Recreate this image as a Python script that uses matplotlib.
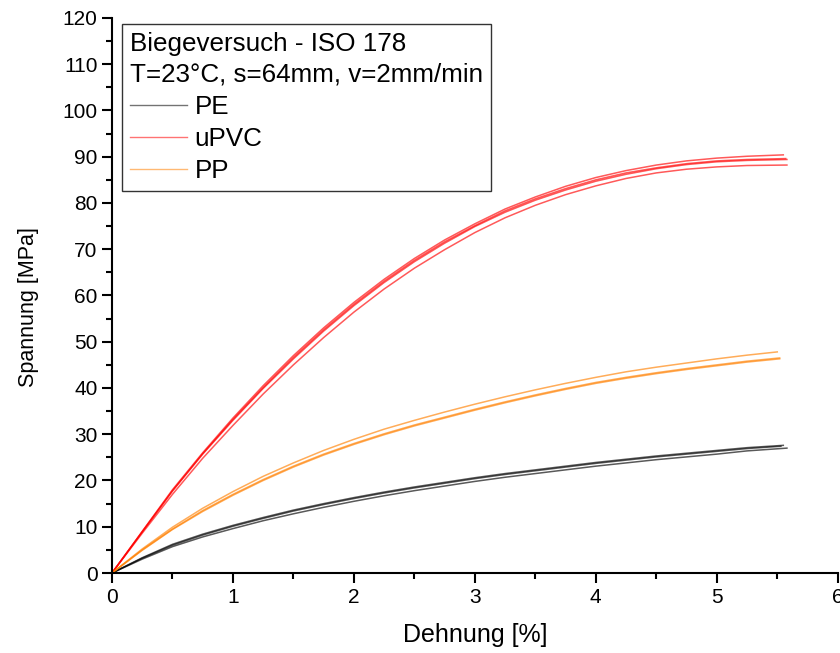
import matplotlib
matplotlib.use('Agg')
import matplotlib.pyplot as plt
from matplotlib.lines import Line2D
from matplotlib.ticker import MultipleLocator

plt.rcParams['font.family'] = ['Liberation Sans', 'DejaVu Sans']

# Dehnung [%] grid (last value = end of each specimen)
dehnung = [0, 0.25, 0.5, 0.75, 1, 1.25, 1.5, 1.75, 2, 2.25, 2.5, 2.75,
           3, 3.25, 3.5, 3.75, 4, 4.25, 4.5, 4.75, 5, 5.25]

# uPVC specimens, Spannung [MPa]
upvc_1 = [0, 9, 18, 26, 33.5, 40.5, 47, 53, 58.5, 63.5, 68, 72,
          75.5, 78.7, 81.3, 83.6, 85.5, 87, 88.2, 89.1, 89.7, 90.1, 90.4]
upvc_2 = [0, 8.9, 17.8, 25.8, 33.2, 40.1, 46.6, 52.6, 58.1, 63.1, 67.6, 71.6,
          75.1, 78.3, 80.9, 83.1, 85.0, 86.5, 87.6, 88.5, 89.1, 89.4, 89.6]
upvc_3 = [0, 8.9, 17.7, 25.7, 33.0, 39.9, 46.3, 52.3, 57.8, 62.8, 67.3, 71.3,
          74.9, 78.0, 80.6, 82.8, 84.7, 86.2, 87.4, 88.3, 88.9, 89.2, 89.4]
upvc_4 = [0, 8.6, 17.0, 24.8, 31.9, 38.7, 45.0, 50.9, 56.4, 61.4, 65.9, 69.9,
          73.6, 76.8, 79.5, 81.8, 83.7, 85.3, 86.5, 87.3, 87.8, 88.1, 88.2]
upvc_end = [5.55, 5.57, 5.58, 5.58]

# PP specimens
pp_1 = [0, 5, 9.5, 13.5, 17, 20.2, 23.1, 25.7, 28.0, 30.1, 32.0, 33.7,
        35.4, 37.0, 38.5, 39.9, 41.2, 42.3, 43.3, 44.2, 45.0, 45.8, 46.5]
pp_2 = [0, 4.9, 9.4, 13.3, 16.8, 20.0, 22.9, 25.5, 27.8, 29.9, 31.8, 33.5,
        35.2, 36.8, 38.3, 39.7, 41.0, 42.1, 43.1, 44.0, 44.8, 45.6, 46.3]
pp_3 = [0, 5.2, 9.9, 14.0, 17.6, 20.9, 23.8, 26.5, 28.9, 31.1, 33.0, 34.8,
        36.5, 38.1, 39.6, 41.0, 42.3, 43.5, 44.5, 45.4, 46.3, 47.1, 47.8]
pp_end = [5.52, 5.52, 5.5]

# PE specimens
pe_1 = [0, 3.3, 6.2, 8.4, 10.3, 12.0, 13.6, 15.0, 16.3, 17.5, 18.6, 19.6,
        20.6, 21.5, 22.3, 23.1, 23.9, 24.6, 25.3, 25.9, 26.5, 27.1, 27.6]
pe_2 = [0, 3.2, 6.0, 8.2, 10.1, 11.8, 13.4, 14.8, 16.1, 17.3, 18.4, 19.4,
        20.4, 21.3, 22.1, 22.9, 23.7, 24.4, 25.1, 25.7, 26.3, 26.9, 27.4]
pe_3 = [0, 3.0, 5.7, 7.8, 9.6, 11.3, 12.8, 14.2, 15.5, 16.7, 17.8, 18.8,
        19.8, 20.7, 21.5, 22.3, 23.1, 23.8, 24.5, 25.1, 25.7, 26.4, 27.0]
pe_end = [5.55, 5.53, 5.58]

fig = plt.figure(figsize=(8.4, 6.53), dpi=100)
ax = fig.add_axes([0.1333, 0.1225, 0.864, 0.85])

groups = [
    ('black', [pe_1, pe_2, pe_3], pe_end),
    ('#ff0000', [upvc_1, upvc_2, upvc_3, upvc_4], upvc_end),
    ('#ff8000', [pp_1, pp_2, pp_3], pp_end),
]
for color, curves, ends in groups:
    for y, xe in zip(curves, ends):
        ax.plot(dehnung + [xe], y, color=color, lw=1.1, alpha=0.65)

ax.set_xlim(0, 6)
ax.set_ylim(0, 120)
ax.xaxis.set_major_locator(MultipleLocator(1))
ax.xaxis.set_minor_locator(MultipleLocator(0.5))
ax.yaxis.set_major_locator(MultipleLocator(10))
ax.yaxis.set_minor_locator(MultipleLocator(5))
ax.spines['top'].set_visible(False)
ax.spines['right'].set_visible(False)
for s in ['left', 'bottom']:
    ax.spines[s].set_linewidth(1.5)
ax.tick_params(which='major', direction='out', length=7, width=1.5, labelsize=15)
ax.tick_params(which='minor', direction='out', length=4, width=1.5)

ax.set_xlabel('Dehnung [%]', fontsize=18, labelpad=12)
ax.set_ylabel('Spannung [MPa]', fontsize=15.5)
ax.yaxis.set_label_coords(-0.1, 0.48)

handles = [Line2D([], [], color='black', lw=1.0, alpha=0.55),
           Line2D([], [], color='#ff0000', lw=1.0, alpha=0.55),
           Line2D([], [], color='#ff8000', lw=1.0, alpha=0.55)]
leg = ax.legend(handles, ['PE', 'uPVC', 'PP'],
                title='Biegeversuch - ISO 178\nT=23°C, s=64mm, v=2mm/min',
                title_fontsize=18.7, fontsize=18.7, alignment='left',
                loc='upper left', bbox_to_anchor=(0.0138, 0.989), borderaxespad=0,
                fancybox=False, edgecolor='#333333', framealpha=1,
                handlelength=2.2, handletextpad=0.3, borderpad=0.3,
                labelspacing=0.32)
leg.get_title().set_linespacing(1.35)
leg.get_frame().set_linewidth(1.0)

plt.savefig('out.png', dpi=100)
